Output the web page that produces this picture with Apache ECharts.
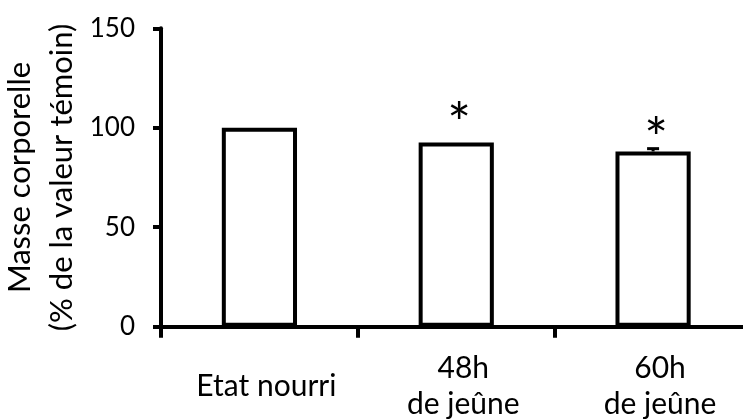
<!DOCTYPE html>
<html><head><meta charset="utf-8">
<script src="https://cdn.jsdelivr.net/npm/echarts@6/dist/echarts.min.js"></script>
<style>html,body{margin:0;padding:0;background:#fff}#c{width:743px;height:420px}</style>
</head><body><div id="c"></div>
<script>
const categories = ['Etat nourri', '48h\nde jeûne', '60h\nde jeûne'];
const values = [100, 92.6, 88.1];
const errors = [0, 0, 1.4];
const starLevels = [null, 109, 101.5];
const yTicks = [0, 50, 100, 150];
const yTitle = 'Masse corporelle\n(% de la valeur témoin)';

const FONT = 'Lato, "Noto Sans", sans-serif';
const STAR_SIZE = 56;
const chart = echarts.init(document.getElementById('c'), null, {renderer: 'canvas'});
chart.setOption({
  animation: false,
  backgroundColor: '#fff',
  grid: {left: 161, right: -8.5, top: 28.3, bottom: 93.3, containLabel: false, outerBoundsMode: 'none'},
  xAxis: {
    type: 'category', data: categories, boundaryGap: true,
    axisLine: {lineStyle: {color: '#000', width: 4}},
    axisTick: {show: true, length: 11, lineStyle: {color: '#000', width: 4}},
    axisLabel: {color: '#000', fontFamily: FONT, fontSize: 30, lineHeight: 36, margin: 60,
      verticalAlign: 'middle', padding: [0, 0, 0, 14], interval: 0},
    splitLine: {show: false}
  },
  yAxis: {
    type: 'value', min: yTicks[0], max: yTicks[yTicks.length - 1], interval: yTicks[1] - yTicks[0],
    axisLine: {show: true, lineStyle: {color: '#000', width: 4}},
    axisTick: {show: true, length: 8, lineStyle: {color: '#000', width: 4}},
    axisLabel: {color: '#000', fontFamily: FONT, fontSize: 26, margin: 26},
    splitLine: {show: false},
    name: yTitle, nameLocation: 'middle', nameRotate: 90, nameGap: 78, nameMoveOverlap: false,
    nameTextStyle: {color: '#000', fontFamily: FONT, fontSize: 31, lineHeight: 42, align: 'center'}
  },
  series: [
    {
      type: 'bar', data: values, barWidth: '38.2%',
      itemStyle: {color: '#fff', borderColor: '#000', borderWidth: 4},
      z: 2
    },
    {
      type: 'custom', z: 3,
      data: values.map((v, i) => [i, v, errors[i]]),
      renderItem(params, api) {
        const i = api.value(0), v = api.value(1), e = api.value(2);
        const base = api.coord([i, v]);
        const top = api.coord([i, v + e]);
        const children = [];
        if (e > 0) {
          children.push({type: 'line', shape: {x1: top[0], y1: base[1], x2: top[0], y2: top[1]}, style: {stroke: '#000', lineWidth: 3}});
          children.push({type: 'line', shape: {x1: top[0] - 6, y1: top[1], x2: top[0] + 6, y2: top[1]}, style: {stroke: '#000', lineWidth: 3}});
        }
        const s = starLevels[params.dataIndex];
        if (s != null) {
          const p = api.coord([i, s]);
          children.push({type: 'text', style: {text: '*', x: p[0] + 3, y: p[1] + STAR_SIZE * 0.27, align: 'center', verticalAlign: 'middle',
            fontFamily: FONT, fontSize: STAR_SIZE, fill: '#000'}});
        }
        return {type: 'group', children};
      }
    }
  ]
});
</script></body></html>
